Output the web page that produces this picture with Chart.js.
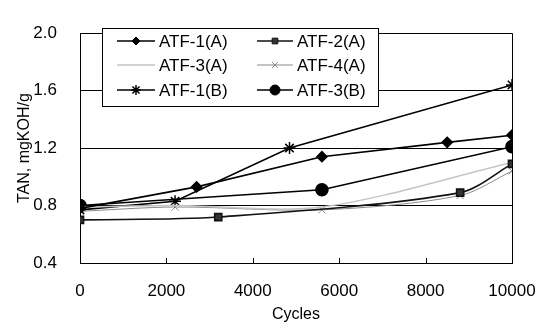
<!DOCTYPE html>
<html>
<head>
<meta charset="utf-8">
<script src="https://cdn.jsdelivr.net/npm/chart.js@4/dist/chart.umd.min.js"></script>
<style>
  html, body { margin: 0; padding: 0; background: #fff; }
  #wrap { width: 539px; height: 336px; }
</style>
</head>
<body>
<div id="wrap"><canvas id="tanChart" width="539" height="336"></canvas></div>
<script>
// cycles and TAN readings for each oil
const atf1aX = [0, 2700, 5600, 8500, 10000];
const atf1aY = [0.78, 0.93, 1.14, 1.24, 1.29];
const atf2aX = [0, 3200, 8800, 10000];
const atf2aY = [0.70, 0.72, 0.89, 1.09];
const atf3aX = [0, 2200, 5600, 10000];
const atf3aY = [0.79, 0.80, 0.79, 1.10];
const atf4aX = [0, 2200, 5600, 8800, 10000];
const atf4aY = [0.76, 0.79, 0.77, 0.87, 1.04];
const atf1bX = [0, 2200, 4850, 10000];
const atf1bY = [0.77, 0.83, 1.20, 1.64];
const atf3bX = [0, 5600, 10000];
const atf3bY = [0.80, 0.91, 1.21];

const xTicks = [0, 2000, 4000, 6000, 8000, 10000];
const yTicks = [0.4, 0.8, 1.2, 1.6, 2.0];

const FONT = 'Liberation Sans, Arial, sans-serif';

function pts(xs, ys) {
  return xs.map((x, i) => ({ x: x, y: ys[i] }));
}

const ctx = document.getElementById('tanChart').getContext('2d');

const datasets = [
  { label: 'ATF-1(A)', data: pts(atf1aX, atf1aY), borderColor: '#000', backgroundColor: '#000',
    borderWidth: 1.6, pointStyle: 'rectRot', pointRadius: 5, tension: 0 },
  { label: 'ATF-2(A)', data: pts(atf2aX, atf2aY), borderColor: '#111', backgroundColor: '#333',
    borderWidth: 1.6, pointStyle: 'rect', pointRadius: 5, tension: 0.3 },
  { label: 'ATF-3(A)', data: pts(atf3aX, atf3aY), borderColor: '#c4c4c4', backgroundColor: '#c4c4c4',
    borderWidth: 1.5, pointRadius: 0, tension: 0.3 },
  { label: 'ATF-4(A)', data: pts(atf4aX, atf4aY), borderColor: '#8a8a8a', backgroundColor: '#8a8a8a',
    borderWidth: 1, pointStyle: 'cross', pointRotation: 45, pointRadius: 5, pointBorderWidth: 1, tension: 0.3 },
  { label: 'ATF-1(B)', data: pts(atf1bX, atf1bY), borderColor: '#000', backgroundColor: '#000',
    borderWidth: 1.6, pointStyle: 'star', pointRadius: 6, pointBorderWidth: 1.5, tension: 0 },
  { label: 'ATF-3(B)', data: pts(atf3bX, atf3bY), borderColor: '#000', backgroundColor: '#000',
    borderWidth: 1.6, pointStyle: 'circle', pointRadius: 6, tension: 0 }
];

// legend box inside the plot + frame bits
const boxLegend = {
  id: 'boxLegend',
  afterDraw(chart) {
    const c = chart.ctx;
    const ca = chart.chartArea;
    const xs = chart.scales.x;
    c.save();
    // right border and inner tick marks
    c.strokeStyle = '#000';
    c.lineWidth = 1;
    c.beginPath();
    c.moveTo(ca.right + 0.5, ca.top);
    c.lineTo(ca.right + 0.5, ca.bottom);
    xTicks.forEach(t => {
      const px = Math.round(xs.getPixelForValue(t)) + 0.5;
      c.moveTo(px, ca.bottom);
      c.lineTo(px, ca.bottom - 5);
    });
    c.stroke();

    // legend
    const bx = 102, by = 28, bw = 276, bh = 78;
    c.fillStyle = '#fff';
    c.fillRect(bx, by, bw, bh);
    c.strokeRect(bx + 0.5, by + 0.5, bw, bh);
    const cols = [{ l: 117, r: 155, t: 159 }, { l: 257, r: 293, t: 297 }];
    const rows = [41, 65, 90];
    c.font = '17px ' + FONT;
    c.textBaseline = 'middle';
    datasets.forEach((ds, i) => {
      const col = cols[i % 2];
      const y = rows[Math.floor(i / 2)];
      c.strokeStyle = ds.borderColor;
      c.lineWidth = ds.borderWidth;
      c.beginPath();
      c.moveTo(col.l, y);
      c.lineTo(col.r, y);
      c.stroke();
      if (ds.pointRadius > 0) {
        c.fillStyle = ds.backgroundColor;
        c.strokeStyle = ds.borderColor;
        c.lineWidth = ds.pointBorderWidth || 1;
        Chart.helpers.drawPoint(c, {
          pointStyle: ds.pointStyle, radius: ds.pointRadius - 1,
          rotation: ds.pointRotation || 0, borderWidth: ds.pointBorderWidth || 1
        }, (col.l + col.r) / 2, y);
      }
      c.fillStyle = '#000';
      c.fillText(ds.label, col.t, y + 1);
    });
    c.restore();
  }
};

// draw the point markers with matching stroke/fill
datasets.forEach(ds => {
  ds.pointBackgroundColor = ds.backgroundColor;
  ds.pointBorderColor = ds.borderColor;
  ds.fill = false;
});

new Chart(ctx, {
  type: 'line',
  data: { datasets: datasets },
  options: {
    responsive: false,
    animation: false,
    layout: { padding: { top: 13, right: 27, left: 0, bottom: 0 } },
    plugins: { legend: { display: false }, tooltip: { enabled: false } },
    scales: {
      x: {
        type: 'linear',
        min: 0, max: 10000,
        afterBuildTicks(axis) { axis.ticks = xTicks.map(v => ({ value: v })); },
        afterFit(axis) { axis.height = 73; axis.paddingRight = 0; },
        grid: { display: false },
        border: { display: true, color: '#000', width: 1 },
        ticks: { color: '#000', font: { family: FONT, size: 17 }, padding: 10, maxRotation: 0, callback: v => String(v) },
        title: { display: true, text: 'Cycles', color: '#000', font: { family: FONT, size: 16 }, padding: { top: 0, bottom: 12 } }
      },
      y: {
        min: 0.4, max: 2.0,
        afterBuildTicks(axis) { axis.ticks = yTicks.map(v => ({ value: v })); },
        afterFit(axis) { axis.width = 80; },
        grid: { color: '#000', lineWidth: 1, drawTicks: false },
        border: { display: true, color: '#000', width: 1 },
        ticks: { color: '#000', font: { family: FONT, size: 17 }, padding: 23, callback: v => v.toFixed(1) },
        title: { display: true, text: 'TAN, mgKOH/g', color: '#000', font: { family: FONT, size: 16 }, padding: { top: 15, bottom: 0 } }
      }
    }
  },
  plugins: [boxLegend]
});
</script>
</body>
</html>
